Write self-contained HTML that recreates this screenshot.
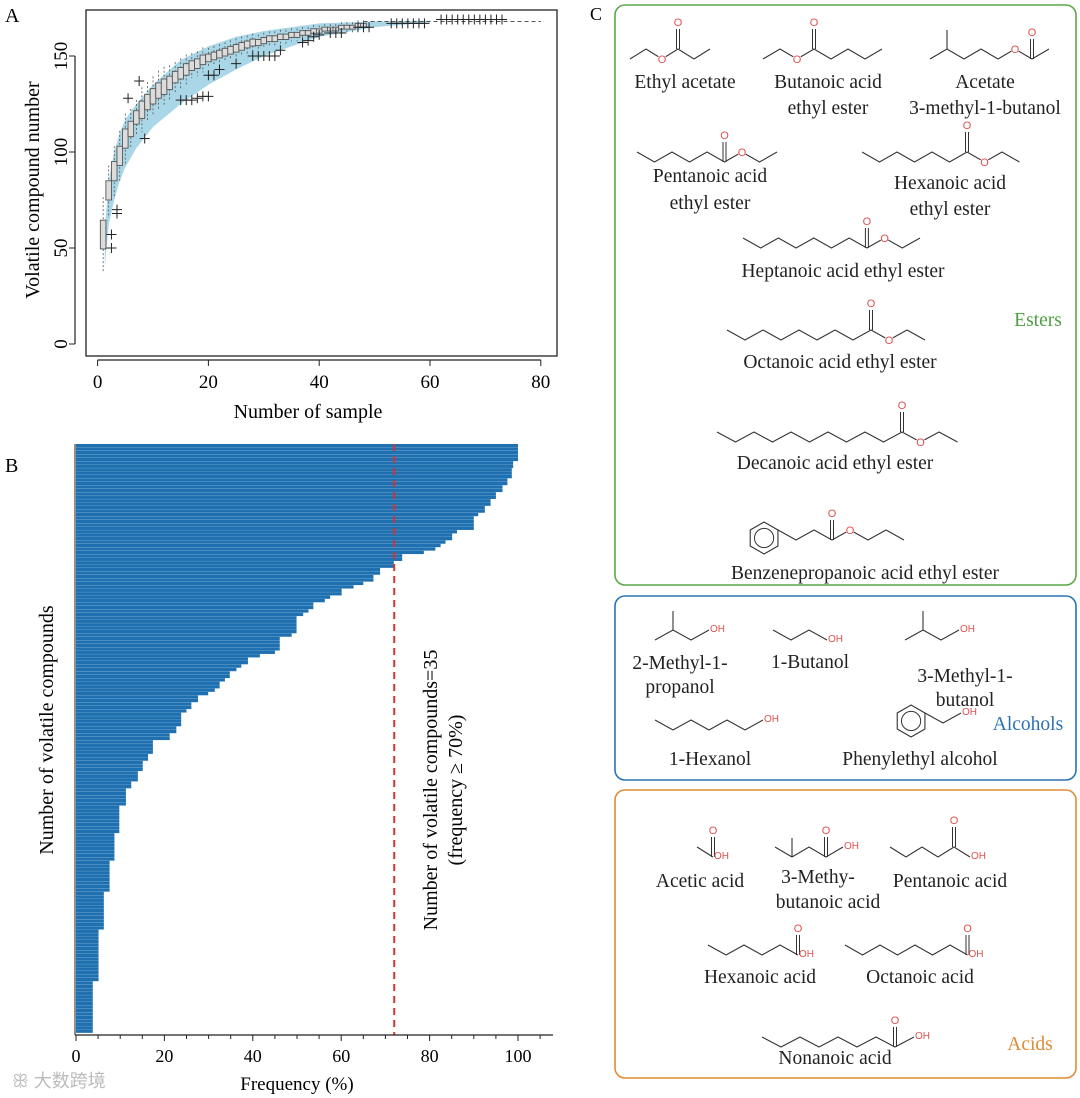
<!DOCTYPE html>
<html><head><meta charset="utf-8">
<style>
html,body{margin:0;padding:0;background:#fff;}
svg{display:block;font-family:"Liberation Serif",serif;}
</style></head>
<body>
<svg id="root" width="1080" height="1098" viewBox="0 0 1080 1098" xmlns="http://www.w3.org/2000/svg">
<g id="panelA"></g>
<g id="panelB"></g>
<g id="panelC"></g>
<text x="12" y="1087" font-size="18" fill="#bbb" font-family="Liberation Sans, Noto Sans CJK SC, sans-serif">ꕥ 大数跨境</text>
</svg>
<script>
// ---------- Panel A data ----------
const sampleN = [1,2,3,4,5,6,7,8,9,10,11,12,13,14,15,16,17,18,19,20,21,22,23,24,25,26,27,28,29,30,31,32,33,34,35,36,37,38,39,40,41,42,43,44,45,46,47,48];
const medians = [57,80,90,98,107,112,118,122,126,129,132,134,136,139,141,143,145,146,148,149,150,151,152,153,154,155,156,157,157,158,159,159,160,160,161,161,162,162,163,163,164,164,164,165,165,165,166,166];
const halfIQR = [7.5,5,5,5,5,4,3.5,4.5,4,4,4,4,3.5,3,3,3,2.5,2.5,2.5,2,2,2,2,2,2,2,1.8,1.8,1.6,1.6,1.5,1.5,1.4,1.4,1.3,1.3,1.2,1.2,1.2,1.1,1,1,1,1,1,1,1,1];
const bandX = [1.3,2,3,4,5,7,10,15,20,25,30,40,50,60];
const bandUpper = [60,85,100,110,117,125,135,148,155,160,163,167,168,168.5];
const bandLower = [40,62,75,85,92,102,113,125,135,143,150,160,165,167.5];
const outX = [2.5,2.5,3.5,3.5,5.5,7.5,8.5,15,16,17,18,19,20,20,21,22,25,28,29,30,31,32,33,37,38,39,40,42,43,44,47,48,49,53,54,55,56,57,58,59,62,63,64,65,66,67,68,69,70,71,72,73];
const outY = [57,50,70,68,128,137,107,127,127,127,128,129,129,140,140,143,146,150,150,150,150,150,153,157,158,160,161,162,162,162,165,165,165,167,167,167,167,167,167,167,169,169,169,169,169,169,169,169,169,169,169,169];
const xTicksA = [0,20,40,60,80];
const yTicksA = [0,50,100,150];
const plateau = 168;

// ---------- Panel B data ----------
const freqLevels = [100,98.9,98.6,97.6,96.5,95,93.8,92.5,91,90,86.2,85.1,83.6,82.5,81.3,78.7,73.8,71.9,68.8,67.3,65,62.8,60.1,57.5,56.3,53.7,52.6,51.4,49.9,48.8,46.1,45,41.6,38.9,37.4,36.3,34.8,33.7,32.5,31.4,29.9,27.6,26.1,25,23.8,22.7,21.2,17.4,16.3,15.1,14,12.5,11.3,9.8,8.7,7.6,6.3,5.1,3.8];
const levelCounts = [5,2,3,2,2,2,2,2,1,4,1,2,1,1,1,1,2,2,2,2,1,1,2,1,1,2,1,1,5,1,4,1,1,2,1,1,2,1,2,1,1,2,2,1,4,2,2,4,2,3,3,2,5,8,8,9,11,15,15];
const xTicksB = [0,20,40,60,80,100];
const threshold = 72;

const NS="http://www.w3.org/2000/svg";
function mk(tag, attrs, parent, txt){
  const e=document.createElementNS(NS,tag);
  for(const k in attrs) e.setAttribute(k,attrs[k]);
  if(txt!==undefined) e.textContent=txt;
  parent.appendChild(e); return e;
}

// ---------- Panel A ----------
(function(){
  const g=document.getElementById('panelA');
  const xA=v=>97.6+v*5.54, yA=v=>344-v*1.92;
  let t=mk('text',{x:5,y:22,'font-size':20},g,'A');
   
  let d='M'+bandX.map((x,i)=>xA(x)+','+yA(bandUpper[i])).join('L');
  for(let i=bandX.length-1;i>=0;i--) d+='L'+xA(bandX[i])+','+yA(bandLower[i]);
  let band=mk('path',{d:d+'Z',fill:'#a9d7e8',stroke:'none'},g);
   
  let pl=mk('line',{x1:xA(48),x2:xA(80),y1:yA(plateau),y2:yA(plateau),stroke:'#555','stroke-dasharray':'4,3','stroke-width':1},g);
   
  sampleN.forEach((n,i)=>{
    const cx=xA(n), m=medians[i], h=halfIQR[i];
    const w=mk('line',{x1:cx,x2:cx,y1:yA(m+h*2.6),y2:yA(m-h*2.6),stroke:'#555','stroke-dasharray':'2,2','stroke-width':0.8},g);
    
    
    const b=mk('rect',{x:cx-2.8,y:yA(m+h),width:5.6,height:Math.max(1.5,yA(m-h)-yA(m+h)),fill:'#dcdcdc',stroke:'#555','stroke-width':0.9},g);
    
    
  });
  outX.forEach((x,i)=>{
    const px=xA(x), py=yA(outY[i]);
    const p=mk('path',{d:`M${px-5},${py}H${px+5}M${px},${py-5}V${py+5}`,stroke:'#222','stroke-width':1},g);
    
    
  });
  let fr=mk('rect',{x:86,y:10,width:471,height:346,fill:'none',stroke:'#222','stroke-width':1.3},g);
   
  let xa=mk('line',{x1:xA(0),x2:xA(80),y1:360,y2:360,stroke:'#222','stroke-width':1.2},g);
   
  xTicksA.forEach(v=>{
    mk('line',{x1:xA(v),x2:xA(v),y1:360,y2:366,stroke:'#222'},g);
    const l=mk('text',{x:xA(v),y:388,'font-size':19,'text-anchor':'middle'},g,String(v));
     
  });
  let ya=mk('line',{x1:75,x2:75,y1:yA(0),y2:yA(150),stroke:'#222','stroke-width':1.2},g);
   
  yTicksA.forEach(v=>{
    mk('line',{x1:69,x2:75,y1:yA(v),y2:yA(v),stroke:'#222'},g);
    const l=mk('text',{x:0,y:0,'font-size':19,'text-anchor':'middle',transform:`translate(67,${yA(v)}) rotate(-90)`},g,String(v));
     
  });
  let xt=mk('text',{x:308,y:418,'font-size':20,'text-anchor':'middle'},g,'Number of sample');
   
  let yt=mk('text',{x:0,y:0,'font-size':20,'text-anchor':'middle',transform:'translate(39,190) rotate(-90)'},g,'Volatile compound number');
   
})();

// ---------- Panel B ----------
(function(){
  const g=document.getElementById('panelB');
  const xB=v=>76+v*4.42;
  const top=444, bottom=1033;
  const vals=[];
  freqLevels.forEach((v,i)=>{for(let k=0;k<levelCounts[i];k++) vals.push(v);});
  const bh=(bottom-top)/vals.length;
  let t=mk('text',{x:5,y:472,'font-size':20},g,'B');
   
  vals.forEach((v,i)=>{
    const r=mk('rect',{x:xB(0),y:top+i*bh,width:xB(v)-xB(0),height:bh-0.15,fill:'#1f70b0'},g);
    
    
  });
  let dl=mk('line',{x1:xB(threshold),x2:xB(threshold),y1:top,y2:bottom+2,stroke:'#d93030','stroke-width':2,'stroke-dasharray':'7,5'},g);
   
  let ax=mk('line',{x1:75,x2:553,y1:1035,y2:1035,stroke:'#222','stroke-width':1.2},g);
   
  for(let v=0;v<=105;v+=5){
    mk('line',{x1:xB(v),x2:xB(v),y1:1035,y2:v%20===0?1041:1039,stroke:'#222'},g);
  }
  xTicksB.forEach(v=>{
    const l=mk('text',{x:xB(v),y:1062,'font-size':18,'text-anchor':'middle'},g,String(v));
     
  });
  let ya=mk('line',{x1:75,x2:75,y1:top,y2:1035,stroke:'#222','stroke-width':1},g);
   
  let xt=mk('text',{x:297,y:1090,'font-size':19,'text-anchor':'middle'},g,'Frequency (%)');
   
  let yt=mk('text',{x:0,y:0,'font-size':20,'text-anchor':'middle',transform:'translate(53,730) rotate(-90)'},g,'Number of volatile compounds');
   
  let a1=mk('text',{x:0,y:0,'font-size':20,'text-anchor':'middle',transform:'translate(437,790) rotate(-90)'},g,'Number of volatile compounds=35');
   
  let a2=mk('text',{x:0,y:0,'font-size':20,'text-anchor':'middle',transform:'translate(462,790) rotate(-90)'},g,'(frequency ≥ 70%)');
   
})();

// ---------- Panel C ----------
(function(){
  const g=document.getElementById('panelC');
  const RED='#e0504f';
  let t=mk('text',{x:590,y:20,'font-size':18},g,'C');
   
  const boxes=[[5,580,'#5aa84a','esters-box'],[596,184,'#2d73b4','alcohols-box'],[790,288,'#e08a35','acids-box']];
  boxes.forEach(b=>{
    const r=mk('rect',{x:615,y:b[0],width:461,height:b[1],rx:10,fill:'none',stroke:b[2],'stroke-width':1.6},g);
     
  });
  function mol(name,x,y,n,dx,opts){
    const mg=mk('g',{},g);
     
    const h=10;
    const up0=opts.startUp?1:0;
    const pts=[];
    for(let i=0;i<=n;i++){pts.push([x+i*dx, y-(((i+up0)%2)?h:0)]);}
    let d='M'+pts.map(p=>p.join(',')).join('L');
    mk('path',{d,fill:'none',stroke:'#333','stroke-width':1.1},mg);
    if(opts.o!==undefined){
      const p=pts[opts.o];
      mk('circle',{cx:p[0],cy:p[1],r:4.5,fill:'#fff'},mg);
      mk('text',{x:p[0],y:p[1]+4,'font-size':11,'text-anchor':'middle',fill:RED,'font-family':'Liberation Sans, sans-serif'},mg,'O');
    }
    if(opts.co!==undefined){
      const p=pts[opts.co];
      mk('path',{d:`M${p[0]-1.5},${p[1]}V${p[1]-20}M${p[0]+1.5},${p[1]}V${p[1]-20}`,stroke:'#333','stroke-width':1},mg);
      mk('text',{x:p[0],y:p[1]-23,'font-size':11,'text-anchor':'middle',fill:RED,'font-family':'Liberation Sans, sans-serif'},mg,'O');
    }
    if(opts.branch!==undefined){
      const p=pts[opts.branch];
      mk('line',{x1:p[0],y1:p[1],x2:p[0],y2:p[1]-19,stroke:'#333','stroke-width':1.1},mg);
    }
    if(opts.oh){
      const p=pts[n];
      mk('text',{x:p[0]+1,y:p[1]+2,'font-size':10,fill:RED,'font-family':'Liberation Sans, sans-serif'},mg,'OH');
    }
    if(opts.benz){
      const p=pts[0], r=16, cx=p[0]-r*0.87, cy=p[1]+r*0.5;
      let hd='';
      for(let k=0;k<6;k++){const a=Math.PI/6+k*Math.PI/3; hd+=(k?'L':'M')+(cx+r*Math.cos(a))+','+(cy+r*Math.sin(a));}
      mk('path',{d:hd+'Z',fill:'none',stroke:'#333','stroke-width':1.1},mg);
      mk('circle',{cx,cy,r:r*0.6,fill:'none',stroke:'#333','stroke-width':1},mg);
    }
  }
  mol('ethyl-acetate-structure',630,59,5,16,{o:2,co:3,startUp:0});
  mol('butanoic-ester-structure',763,59,7,17,{o:2,co:3});
  mol('acetate-3m1b-structure',930,59,7,17,{startUp:0,branch:1,o:5,co:6});
  mol('pentanoic-ester-structure',637,162,8,17.5,{startUp:1,co:5,o:6});
  mol('hexanoic-ester-structure',862,162,9,17.5,{startUp:1,co:6,o:7});
  mol('heptanoic-ester-structure',743,248,10,17.7,{startUp:1,co:7,o:8});
  mol('octanoic-ester-structure',727,340,11,18,{startUp:1,co:8,o:9});
  mol('decanoic-ester-structure',717,442,13,18.5,{startUp:1,co:10,o:11});
  mol('benzenepropanoic-ester-structure',778,540,7,18,{startUp:1,co:3,o:4,benz:true});
  mol('methylpropanol-structure',655,640,3,18,{startUp:0,branch:1,oh:true});
  mol('butanol-structure',773,640,3,18,{startUp:1,oh:true});
  mol('methylbutanol-structure',905,640,3,18,{startUp:0,branch:1,oh:true});
  mol('hexanol-structure',655,730,6,18,{startUp:1,oh:true});
  mol('phenylethanol-structure',925,723,2,18,{startUp:1,oh:true,benz:true});
  mol('acetic-acid-structure',697,857,1,16,{startUp:1,co:1,oh:true});
  mol('methylbutanoic-structure',775,857,4,17,{startUp:1,branch:1,co:3,oh:true});
  mol('pentanoic-acid-structure',890,857,5,16,{startUp:1,co:4,oh:true});
  mol('hexanoic-acid-structure',708,955,5,18,{startUp:1,co:5,oh:true});
  mol('octanoic-acid-structure',845,955,7,17.5,{startUp:1,co:7,oh:true});
  mol('nonanoic-acid-structure',762,1047,8,19,{startUp:1,co:7,oh:true});

  const labels=[
    ['Ethyl acetate',685,88,'#222'],['Butanoic acid',828,88,'#222'],['ethyl ester',828,114,'#222'],
    ['Acetate',985,88,'#222'],['3-methyl-1-butanol',985,114,'#222'],
    ['Pentanoic acid',710,182,'#222'],['ethyl ester',710,209,'#222'],
    ['Hexanoic acid',950,189,'#222'],['ethyl ester',950,215,'#222'],
    ['Heptanoic acid ethyl ester',843,277,'#222'],['Esters',1038,326,'#4ea043'],
    ['Octanoic acid ethyl ester',840,368,'#222'],['Decanoic acid ethyl ester',835,469,'#222'],
    ['Benzenepropanoic acid ethyl ester',865,579,'#222'],
    ['2-Methyl-1-',680,669,'#222'],['propanol',680,693,'#222'],['1-Butanol',810,668,'#222'],
    ['3-Methyl-1-',965,682,'#222'],['butanol',965,706,'#222'],['Alcohols',1028,730,'#2d73b4'],
    ['1-Hexanol',710,765,'#222'],['Phenylethyl alcohol',920,765,'#222'],
    ['Acetic acid',700,887,'#222'],['3-Methy-',818,883,'#222'],['butanoic acid',828,908,'#222'],
    ['Pentanoic acid',950,887,'#222'],['Hexanoic acid',760,983,'#222'],['Octanoic acid',920,983,'#222'],
    ['Acids',1030,1050,'#e08a35'],['Nonanoic acid',835,1064,'#222']
  ];
  labels.forEach(l=>{
    const e=mk('text',{x:l[1],y:l[2],'font-size':19.5,'text-anchor':'middle',fill:l[3]},g,l[0]);
    
    
  });
})();
</script>
</body></html>
